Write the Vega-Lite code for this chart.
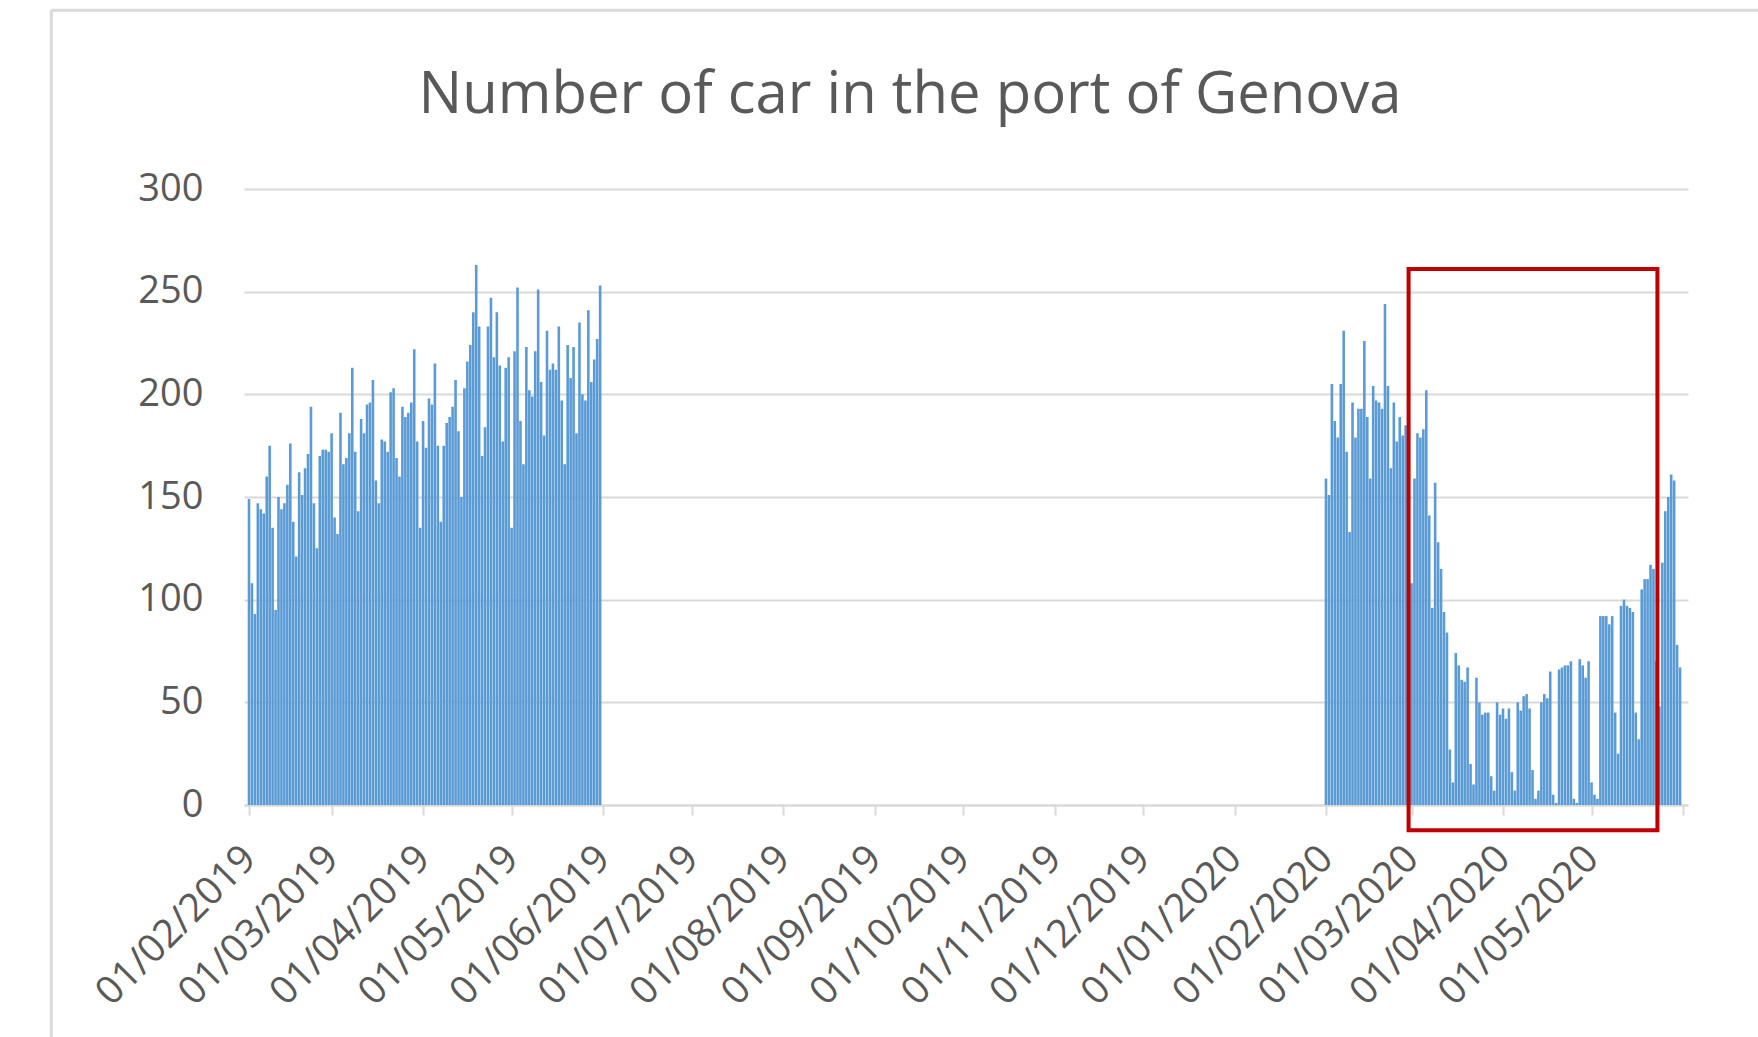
{
  "$schema": "https://vega.github.io/schema/vega-lite/v6.json",
  "width": 1444,
  "height": 616,
  "autosize": {"type": "none"},
  "padding": {"left": 244, "top": 189, "right": 70, "bottom": 232},
  "background": "white",
  "config": {"view": {"stroke": null}, "font": "Open Sans"},
  "title": {
    "text": "Number of car in the port of Genova",
    "font": "Open Sans",
    "fontSize": 58,
    "fontWeight": "normal",
    "color": "#595959",
    "frame": "group",
    "anchor": "middle",
    "baseline": "alphabetic",
    "offset": -162,
    "dx": -56
  },
  "datasets": {
    "cars": [
      {"date": "2019-02-01", "cars": 149}, {"date": "2019-02-02", "cars": 108}, {"date": "2019-02-03", "cars": 93}, {"date": "2019-02-04", "cars": 147},
      {"date": "2019-02-05", "cars": 144}, {"date": "2019-02-06", "cars": 142}, {"date": "2019-02-07", "cars": 160}, {"date": "2019-02-08", "cars": 175},
      {"date": "2019-02-09", "cars": 135}, {"date": "2019-02-10", "cars": 95}, {"date": "2019-02-11", "cars": 150}, {"date": "2019-02-12", "cars": 144},
      {"date": "2019-02-13", "cars": 147}, {"date": "2019-02-14", "cars": 156}, {"date": "2019-02-15", "cars": 176}, {"date": "2019-02-16", "cars": 138},
      {"date": "2019-02-17", "cars": 121}, {"date": "2019-02-18", "cars": 162}, {"date": "2019-02-19", "cars": 151}, {"date": "2019-02-20", "cars": 164},
      {"date": "2019-02-21", "cars": 171}, {"date": "2019-02-22", "cars": 194}, {"date": "2019-02-23", "cars": 147}, {"date": "2019-02-24", "cars": 125},
      {"date": "2019-02-25", "cars": 170}, {"date": "2019-02-26", "cars": 173}, {"date": "2019-02-27", "cars": 173}, {"date": "2019-02-28", "cars": 172},
      {"date": "2019-03-01", "cars": 181}, {"date": "2019-03-02", "cars": 140}, {"date": "2019-03-03", "cars": 132}, {"date": "2019-03-04", "cars": 191},
      {"date": "2019-03-05", "cars": 166}, {"date": "2019-03-06", "cars": 169}, {"date": "2019-03-07", "cars": 181}, {"date": "2019-03-08", "cars": 213},
      {"date": "2019-03-09", "cars": 172}, {"date": "2019-03-10", "cars": 143}, {"date": "2019-03-11", "cars": 188}, {"date": "2019-03-12", "cars": 181},
      {"date": "2019-03-13", "cars": 195}, {"date": "2019-03-14", "cars": 196}, {"date": "2019-03-15", "cars": 207}, {"date": "2019-03-16", "cars": 158},
      {"date": "2019-03-17", "cars": 147}, {"date": "2019-03-18", "cars": 178}, {"date": "2019-03-19", "cars": 177}, {"date": "2019-03-20", "cars": 172},
      {"date": "2019-03-21", "cars": 201}, {"date": "2019-03-22", "cars": 203}, {"date": "2019-03-23", "cars": 169}, {"date": "2019-03-24", "cars": 160},
      {"date": "2019-03-25", "cars": 194}, {"date": "2019-03-26", "cars": 189}, {"date": "2019-03-27", "cars": 191}, {"date": "2019-03-28", "cars": 196},
      {"date": "2019-03-29", "cars": 222}, {"date": "2019-03-30", "cars": 177}, {"date": "2019-03-31", "cars": 135},
      {"date": "2019-04-01", "cars": 187}, {"date": "2019-04-02", "cars": 174}, {"date": "2019-04-03", "cars": 198}, {"date": "2019-04-04", "cars": 195},
      {"date": "2019-04-05", "cars": 215}, {"date": "2019-04-06", "cars": 175}, {"date": "2019-04-07", "cars": 138}, {"date": "2019-04-08", "cars": 175},
      {"date": "2019-04-09", "cars": 186}, {"date": "2019-04-10", "cars": 189}, {"date": "2019-04-11", "cars": 194}, {"date": "2019-04-12", "cars": 207},
      {"date": "2019-04-13", "cars": 182}, {"date": "2019-04-14", "cars": 150}, {"date": "2019-04-15", "cars": 203}, {"date": "2019-04-16", "cars": 216},
      {"date": "2019-04-17", "cars": 224}, {"date": "2019-04-18", "cars": 240}, {"date": "2019-04-19", "cars": 263}, {"date": "2019-04-20", "cars": 233},
      {"date": "2019-04-21", "cars": 170}, {"date": "2019-04-22", "cars": 184}, {"date": "2019-04-23", "cars": 233}, {"date": "2019-04-24", "cars": 247},
      {"date": "2019-04-25", "cars": 218}, {"date": "2019-04-26", "cars": 240}, {"date": "2019-04-27", "cars": 214}, {"date": "2019-04-28", "cars": 177},
      {"date": "2019-04-29", "cars": 213}, {"date": "2019-04-30", "cars": 218},
      {"date": "2019-05-01", "cars": 135}, {"date": "2019-05-02", "cars": 221}, {"date": "2019-05-03", "cars": 252}, {"date": "2019-05-04", "cars": 187},
      {"date": "2019-05-05", "cars": 166}, {"date": "2019-05-06", "cars": 223}, {"date": "2019-05-07", "cars": 202}, {"date": "2019-05-08", "cars": 199},
      {"date": "2019-05-09", "cars": 221}, {"date": "2019-05-10", "cars": 251}, {"date": "2019-05-11", "cars": 206}, {"date": "2019-05-12", "cars": 180},
      {"date": "2019-05-13", "cars": 231}, {"date": "2019-05-14", "cars": 212}, {"date": "2019-05-15", "cars": 215}, {"date": "2019-05-16", "cars": 212},
      {"date": "2019-05-17", "cars": 233}, {"date": "2019-05-18", "cars": 197}, {"date": "2019-05-19", "cars": 166}, {"date": "2019-05-20", "cars": 224},
      {"date": "2019-05-21", "cars": 208}, {"date": "2019-05-22", "cars": 223}, {"date": "2019-05-23", "cars": 181}, {"date": "2019-05-24", "cars": 235},
      {"date": "2019-05-25", "cars": 200}, {"date": "2019-05-26", "cars": 197}, {"date": "2019-05-27", "cars": 241}, {"date": "2019-05-28", "cars": 206},
      {"date": "2019-05-29", "cars": 217}, {"date": "2019-05-30", "cars": 227}, {"date": "2019-05-31", "cars": 253},
      {"date": "2020-02-01", "cars": 159}, {"date": "2020-02-02", "cars": 151}, {"date": "2020-02-03", "cars": 205}, {"date": "2020-02-04", "cars": 187},
      {"date": "2020-02-05", "cars": 179}, {"date": "2020-02-06", "cars": 205}, {"date": "2020-02-07", "cars": 231}, {"date": "2020-02-08", "cars": 172},
      {"date": "2020-02-09", "cars": 133}, {"date": "2020-02-10", "cars": 196}, {"date": "2020-02-11", "cars": 179}, {"date": "2020-02-12", "cars": 193},
      {"date": "2020-02-13", "cars": 193}, {"date": "2020-02-14", "cars": 226}, {"date": "2020-02-15", "cars": 189}, {"date": "2020-02-16", "cars": 159},
      {"date": "2020-02-17", "cars": 204}, {"date": "2020-02-18", "cars": 197}, {"date": "2020-02-19", "cars": 196}, {"date": "2020-02-20", "cars": 193},
      {"date": "2020-02-21", "cars": 244}, {"date": "2020-02-22", "cars": 204}, {"date": "2020-02-23", "cars": 164}, {"date": "2020-02-24", "cars": 196},
      {"date": "2020-02-25", "cars": 177}, {"date": "2020-02-26", "cars": 189}, {"date": "2020-02-27", "cars": 180}, {"date": "2020-02-28", "cars": 185},
      {"date": "2020-02-29", "cars": 135},
      {"date": "2020-03-01", "cars": 108}, {"date": "2020-03-02", "cars": 159}, {"date": "2020-03-03", "cars": 181}, {"date": "2020-03-04", "cars": 179},
      {"date": "2020-03-05", "cars": 183}, {"date": "2020-03-06", "cars": 202}, {"date": "2020-03-07", "cars": 141}, {"date": "2020-03-08", "cars": 96},
      {"date": "2020-03-09", "cars": 157}, {"date": "2020-03-10", "cars": 128}, {"date": "2020-03-11", "cars": 115}, {"date": "2020-03-12", "cars": 94},
      {"date": "2020-03-13", "cars": 84}, {"date": "2020-03-14", "cars": 27}, {"date": "2020-03-15", "cars": 11}, {"date": "2020-03-16", "cars": 74},
      {"date": "2020-03-17", "cars": 68}, {"date": "2020-03-18", "cars": 61}, {"date": "2020-03-19", "cars": 60}, {"date": "2020-03-20", "cars": 67},
      {"date": "2020-03-21", "cars": 20}, {"date": "2020-03-22", "cars": 10}, {"date": "2020-03-23", "cars": 62}, {"date": "2020-03-24", "cars": 50},
      {"date": "2020-03-25", "cars": 44}, {"date": "2020-03-26", "cars": 45}, {"date": "2020-03-27", "cars": 45}, {"date": "2020-03-28", "cars": 14},
      {"date": "2020-03-29", "cars": 7}, {"date": "2020-03-30", "cars": 50}, {"date": "2020-03-31", "cars": 44},
      {"date": "2020-04-01", "cars": 47}, {"date": "2020-04-02", "cars": 42}, {"date": "2020-04-03", "cars": 47}, {"date": "2020-04-04", "cars": 16},
      {"date": "2020-04-05", "cars": 7}, {"date": "2020-04-06", "cars": 50}, {"date": "2020-04-07", "cars": 46}, {"date": "2020-04-08", "cars": 53},
      {"date": "2020-04-09", "cars": 54}, {"date": "2020-04-10", "cars": 47}, {"date": "2020-04-11", "cars": 17}, {"date": "2020-04-12", "cars": 3},
      {"date": "2020-04-13", "cars": 7}, {"date": "2020-04-14", "cars": 50}, {"date": "2020-04-15", "cars": 54}, {"date": "2020-04-16", "cars": 52},
      {"date": "2020-04-17", "cars": 65}, {"date": "2020-04-18", "cars": 5}, {"date": "2020-04-19", "cars": 1}, {"date": "2020-04-20", "cars": 66},
      {"date": "2020-04-21", "cars": 67}, {"date": "2020-04-22", "cars": 68}, {"date": "2020-04-23", "cars": 68}, {"date": "2020-04-24", "cars": 70},
      {"date": "2020-04-25", "cars": 3}, {"date": "2020-04-26", "cars": 1}, {"date": "2020-04-27", "cars": 71}, {"date": "2020-04-28", "cars": 68},
      {"date": "2020-04-29", "cars": 62}, {"date": "2020-04-30", "cars": 70},
      {"date": "2020-05-01", "cars": 11}, {"date": "2020-05-02", "cars": 5}, {"date": "2020-05-03", "cars": 3}, {"date": "2020-05-04", "cars": 92},
      {"date": "2020-05-05", "cars": 92}, {"date": "2020-05-06", "cars": 92}, {"date": "2020-05-07", "cars": 88}, {"date": "2020-05-08", "cars": 92},
      {"date": "2020-05-09", "cars": 45}, {"date": "2020-05-10", "cars": 25}, {"date": "2020-05-11", "cars": 97}, {"date": "2020-05-12", "cars": 100},
      {"date": "2020-05-13", "cars": 97}, {"date": "2020-05-14", "cars": 96}, {"date": "2020-05-15", "cars": 94}, {"date": "2020-05-16", "cars": 45},
      {"date": "2020-05-17", "cars": 32}, {"date": "2020-05-18", "cars": 105}, {"date": "2020-05-19", "cars": 110}, {"date": "2020-05-20", "cars": 110},
      {"date": "2020-05-21", "cars": 117}, {"date": "2020-05-22", "cars": 115}, {"date": "2020-05-23", "cars": 70}, {"date": "2020-05-24", "cars": 48},
      {"date": "2020-05-25", "cars": 118}, {"date": "2020-05-26", "cars": 143}, {"date": "2020-05-27", "cars": 150}, {"date": "2020-05-28", "cars": 161},
      {"date": "2020-05-29", "cars": 158}, {"date": "2020-05-30", "cars": 78}, {"date": "2020-05-31", "cars": 67}
    ]
  },
  "layer": [
    {
      "data": {"name": "cars"},
      "mark": {"type": "bar", "size": 2.6, "color": "#5B9BD5"},
      "encoding": {
        "x": {
          "field": "date",
          "type": "temporal",
          "scale": {
            "type": "utc",
            "nice": false,
            "domain": [
              {"year": 2019, "month": 2, "date": 1, "utc": true},
              {"year": 2020, "month": 6, "date": 1, "utc": true}
            ]
          },
          "axis": {
            "title": null,
            "values": [
              {"year": 2019, "month": 2, "date": 1, "utc": true},
              {"year": 2019, "month": 3, "date": 1, "utc": true},
              {"year": 2019, "month": 4, "date": 1, "utc": true},
              {"year": 2019, "month": 5, "date": 1, "utc": true},
              {"year": 2019, "month": 6, "date": 1, "utc": true},
              {"year": 2019, "month": 7, "date": 1, "utc": true},
              {"year": 2019, "month": 8, "date": 1, "utc": true},
              {"year": 2019, "month": 9, "date": 1, "utc": true},
              {"year": 2019, "month": 10, "date": 1, "utc": true},
              {"year": 2019, "month": 11, "date": 1, "utc": true},
              {"year": 2019, "month": 12, "date": 1, "utc": true},
              {"year": 2020, "month": 1, "date": 1, "utc": true},
              {"year": 2020, "month": 2, "date": 1, "utc": true},
              {"year": 2020, "month": 3, "date": 1, "utc": true},
              {"year": 2020, "month": 4, "date": 1, "utc": true},
              {"year": 2020, "month": 5, "date": 1, "utc": true},
              {"year": 2020, "month": 6, "date": 1, "utc": true}
            ],
            "labelExpr": "datum.value >= 1590900000000 ? '' : utcFormat(datum.value, '%d/%m/%Y')",
            "grid": false,
            "domainColor": "#d9d9d9",
            "domainWidth": 2,
            "tickColor": "#d9d9d9",
            "tickWidth": 2,
            "tickSize": 10,
            "labelAngle": -45,
            "labelAlign": "right",
            "labelBaseline": "middle",
            "labelFont": "Open Sans",
            "labelFontSize": 39,
            "labelColor": "#595959",
            "labelPadding": 37,
            "labelLimit": 0,
            "labelOverlap": false,
            "labelFlush": false
          }
        },
        "y": {
          "field": "cars",
          "type": "quantitative",
          "scale": {"domain": [0, 300], "nice": false},
          "axis": {
            "title": null,
            "values": [0, 50, 100, 150, 200, 250, 300],
            "grid": true,
            "gridColor": "#d9d9d9",
            "gridWidth": 2,
            "domain": false,
            "ticks": false,
            "tickSize": 0,
            "labelFont": "Open Sans",
            "labelFontSize": 38,
            "labelColor": "#595959",
            "labelPadding": 41
          }
        }
      }
    },
    {
      "data": {"values": [{}]},
      "mark": {"type": "rect", "fill": null, "stroke": "#C00000", "strokeWidth": 4},
      "encoding": {
        "x": {"datum": {"year": 2020, "month": 2, "date": 29, "utc": true}, "type": "temporal"},
        "x2": {"datum": {"year": 2020, "month": 5, "date": 23, "hours": 8, "utc": true}},
        "y": {"datum": 261, "type": "quantitative"},
        "y2": {"datum": -12.3}
      }
    },
    {
      "data": {"values": [{}]},
      "mark": {"type": "rule", "color": "#d9d9d9", "strokeWidth": 3},
      "encoding": {
        "x": {"datum": {"year": 2018, "month": 11, "date": 26, "utc": true}, "type": "temporal"},
        "y": {"datum": 387, "type": "quantitative"},
        "y2": {"datum": -130}
      }
    },
    {
      "data": {"values": [{}]},
      "mark": {"type": "rule", "color": "#d9d9d9", "strokeWidth": 3},
      "encoding": {
        "x": {"datum": {"year": 2018, "month": 11, "date": 26, "utc": true}, "type": "temporal"},
        "x2": {"datum": {"year": 2020, "month": 7, "date": 20, "utc": true}},
        "y": {"datum": 387, "type": "quantitative"}
      }
    }
  ]
}
